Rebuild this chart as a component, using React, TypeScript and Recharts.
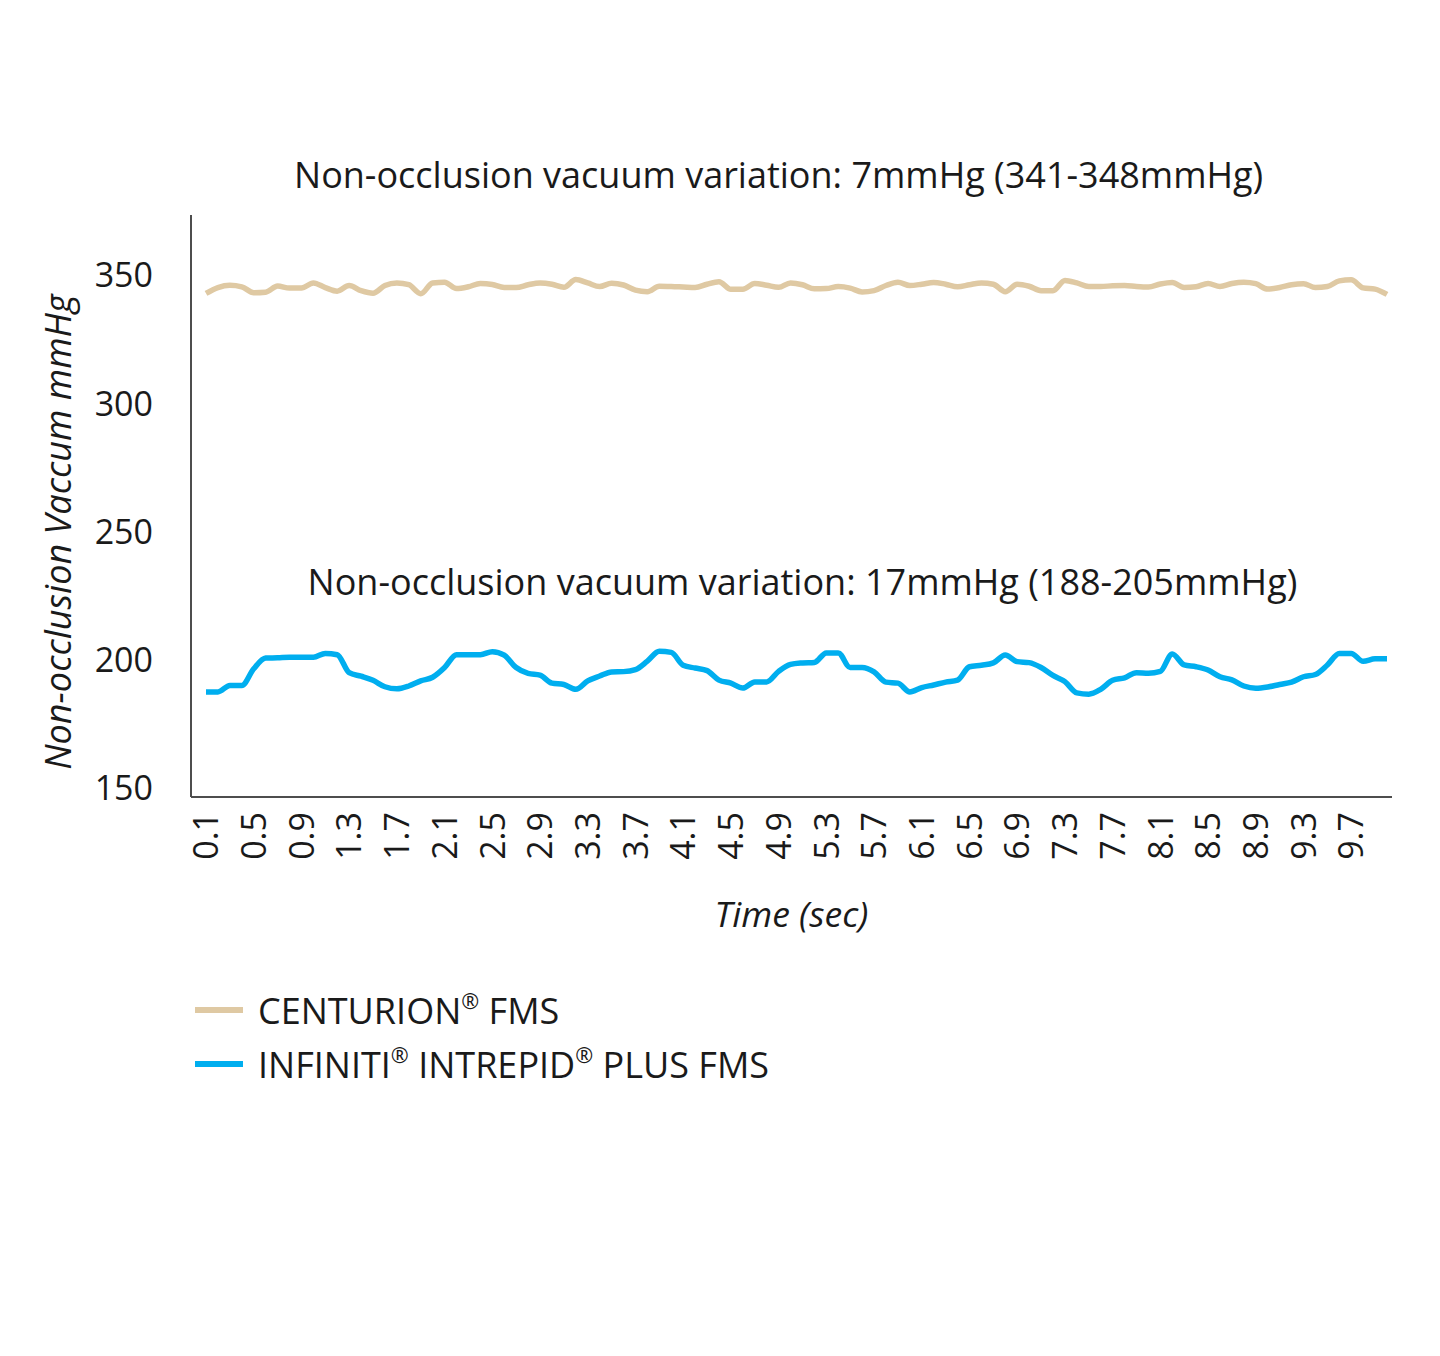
import React from "react"
import { LineChart, Line, XAxis, YAxis, Legend, ReferenceDot, Label } from "recharts"

const times = [
  "0.1", "0.2", "0.3", "0.4", "0.5", "0.6", "0.7", "0.8", "0.9", "1.0",
  "1.1", "1.2", "1.3", "1.4", "1.5", "1.6", "1.7", "1.8", "1.9", "2.0",
  "2.1", "2.2", "2.3", "2.4", "2.5", "2.6", "2.7", "2.8", "2.9", "3.0",
  "3.1", "3.2", "3.3", "3.4", "3.5", "3.6", "3.7", "3.8", "3.9", "4.0",
  "4.1", "4.2", "4.3", "4.4", "4.5", "4.6", "4.7", "4.8", "4.9", "5.0",
  "5.1", "5.2", "5.3", "5.4", "5.5", "5.6", "5.7", "5.8", "5.9", "6.0",
  "6.1", "6.2", "6.3", "6.4", "6.5", "6.6", "6.7", "6.8", "6.9", "7.0",
  "7.1", "7.2", "7.3", "7.4", "7.5", "7.6", "7.7", "7.8", "7.9", "8.0",
  "8.1", "8.2", "8.3", "8.4", "8.5", "8.6", "8.7", "8.8", "8.9", "9.0",
  "9.1", "9.2", "9.3", "9.4", "9.5", "9.6", "9.7", "9.8", "9.9", "10.0",
]

const centurion = [
  342.9, 345.2, 346.1, 345.5, 343.2, 343.4, 345.8, 345.0, 345.0, 347.0,
  345.2, 343.8, 346.0, 344.0, 343.0, 346.0, 347.0, 346.3, 342.8, 347.0,
  347.3, 344.8, 345.5, 346.8, 346.4, 345.2, 345.2, 346.3, 347.0, 346.5,
  345.3, 348.3, 347.0, 345.6, 346.9, 346.2, 344.2, 343.6, 345.7, 345.6,
  345.4, 345.2, 346.5, 347.5, 344.5, 344.5, 346.8, 346.1, 345.3, 347.0,
  346.3, 344.7, 344.8, 345.6, 345.0, 343.5, 344.0, 346.0, 347.3, 346.0,
  346.5, 347.2, 346.5, 345.5, 346.3, 347.0, 346.5, 343.6, 346.5, 345.7,
  344.0, 344.0, 348.0, 347.0, 345.6, 345.6, 345.9, 346.0, 345.6, 345.4,
  346.6, 347.2, 345.2, 345.5, 346.8, 345.6, 346.8, 347.3, 346.7, 344.6,
  345.2, 346.3, 346.7, 345.2, 345.6, 347.8, 348.2, 345.1, 344.6, 342.5,
]

const infiniti = [
  187.5, 187.5, 190.0, 190.0, 196.5, 200.7, 200.8, 201.0, 201.0, 201.0,
  202.5, 202.0, 195.0, 193.6, 192.0, 189.5, 188.7, 189.8, 191.8, 193.2,
  197.0, 202.0, 202.0, 202.0, 203.2, 201.8, 197.0, 194.7, 194.0, 190.9,
  190.4, 188.5, 191.8, 193.7, 195.3, 195.4, 196.2, 199.5, 203.3, 202.9,
  197.9, 196.8, 195.8, 192.1, 190.9, 189.0, 191.4, 191.4, 195.5, 198.2,
  198.8, 199.0, 202.7, 202.7, 197.0, 197.0, 195.3, 191.3, 190.9, 187.5,
  189.2, 190.2, 191.3, 192.1, 197.3, 197.9, 198.8, 201.9, 199.3, 198.9,
  197.0, 193.9, 191.5, 187.1, 186.6, 188.5, 192.0, 193.0, 195.0, 194.8,
  195.5, 202.3, 198.0, 197.3, 196.0, 193.4, 192.2, 189.8, 188.9, 189.4,
  190.4, 191.3, 193.4, 194.3, 198.0, 202.5, 202.5, 199.4, 200.4, 200.4,
]

const yTicks = [150, 200, 250, 300, 350]

const series = [
  { key: "centurion", name: "CENTURION® FMS", color: "#dfc9a3" },
  { key: "infiniti", name: "INFINITI® INTREPID® PLUS FMS", color: "#00aeef" },
]

const notes = [
  { time: "4.9", value: 389, text: "Non-occlusion vacuum variation: 7mmHg (341-348mmHg)" },
  { time: "5.1", value: 230.4, text: "Non-occlusion vacuum variation: 17mmHg (188-205mmHg)" },
]

const data = times.map((t, i) => ({ time: t, centurion: centurion[i], infiniti: infiniti[i] }))

const FONT = "'Open Sans', sans-serif"

function TimeTick({ x, y, payload }: any) {
  return (
    <text
      x={x}
      y={y}
      transform={`rotate(-90, ${x}, ${y})`}
      textAnchor="end"
      dy="0.36em"
      fontSize={34}
      fontFamily={FONT}
      fill="#1a1a1a"
    >
      {payload.value}
    </text>
  )
}

function withReg(name: string) {
  const parts = name.split("®")
  return parts.map((p, i) => (
    <React.Fragment key={i}>
      {p}
      {i < parts.length - 1 && (
        <sup style={{ fontSize: "0.6em", verticalAlign: "0.7em", lineHeight: 0 }}>®</sup>
      )}
    </React.Fragment>
  ))
}

function renderLegend() {
  return (
    <div style={{ fontFamily: FONT, fontSize: 36, color: "#1a1a1a" }}>
      {series.map((s) => (
        <div key={s.key} style={{ display: "flex", alignItems: "center", height: 54 }}>
          <span style={{ display: "inline-block", width: 48, height: 6, background: s.color, marginRight: 15 }} />
          <span>{withReg(s.name)}</span>
        </div>
      ))}
    </div>
  )
}

export default function App() {
  return (
    <LineChart
      width={1424}
      height={1340}
      data={data}
      margin={{ top: 207, right: 40, left: 0, bottom: 421 }}
      style={{ fontFamily: FONT }}
    >
      <XAxis
        dataKey="time"
        interval={3}
        tick={<TimeTick />}
        tickLine={false}
        tickSize={0}
        tickMargin={15}
        height={130}
        padding={{ left: 15, right: 5 }}
        axisLine={{ stroke: "#4d4d4d", strokeWidth: 2 }}
      >
        <Label
          content={({ viewBox }: any) => (
            <text
              x={viewBox.x + viewBox.width / 2}
              y={viewBox.y + 116}
              textAnchor="middle"
              dominantBaseline="central"
              fontSize={35.5}
              fontStyle="italic"
              fontFamily={FONT}
              fill="#1a1a1a"
            >
              Time (sec)
            </text>
          )}
        />
      </XAxis>
      <YAxis
        width={183}
        domain={[146.5, 373.5]}
        ticks={yTicks}
        tickLine={false}
        tickSize={0}
        tickMargin={38}
        tick={{ fontSize: 34, fill: "#1a1a1a", fontFamily: FONT }}
        axisLine={{ stroke: "#4d4d4d", strokeWidth: 2 }}
      >
        <Label
          content={() => (
            <text
              x={49}
              y={524}
              transform="rotate(-90, 49, 524)"
              textAnchor="middle"
              dominantBaseline="central"
              fontSize={36}
              fontStyle="italic"
              fontFamily={FONT}
              fill="#1a1a1a"
            >
              Non-occlusion Vaccum mmHg
            </text>
          )}
        />
      </YAxis>
      <Legend
        layout="vertical"
        align="center"
        verticalAlign="middle"
        content={renderLegend}
        wrapperStyle={{ left: 187, top: 975, width: "auto", height: "auto" }}
      />
      {notes.map((n) => (
        <ReferenceDot
          key={n.text}
          x={n.time}
          y={n.value}
          r={0}
          ifOverflow="visible"
          label={{ value: n.text, position: "center", fontSize: 36, fill: "#1a1a1a", fontFamily: FONT }}
        />
      ))}
      {series.map((s) => (
        <Line
          key={s.key}
          dataKey={s.key}
          name={s.name}
          type="monotone"
          stroke={s.color}
          strokeWidth={5.5}
          dot={false}
          activeDot={false}
          isAnimationActive={false}
        />
      ))}
    </LineChart>
  )
}
